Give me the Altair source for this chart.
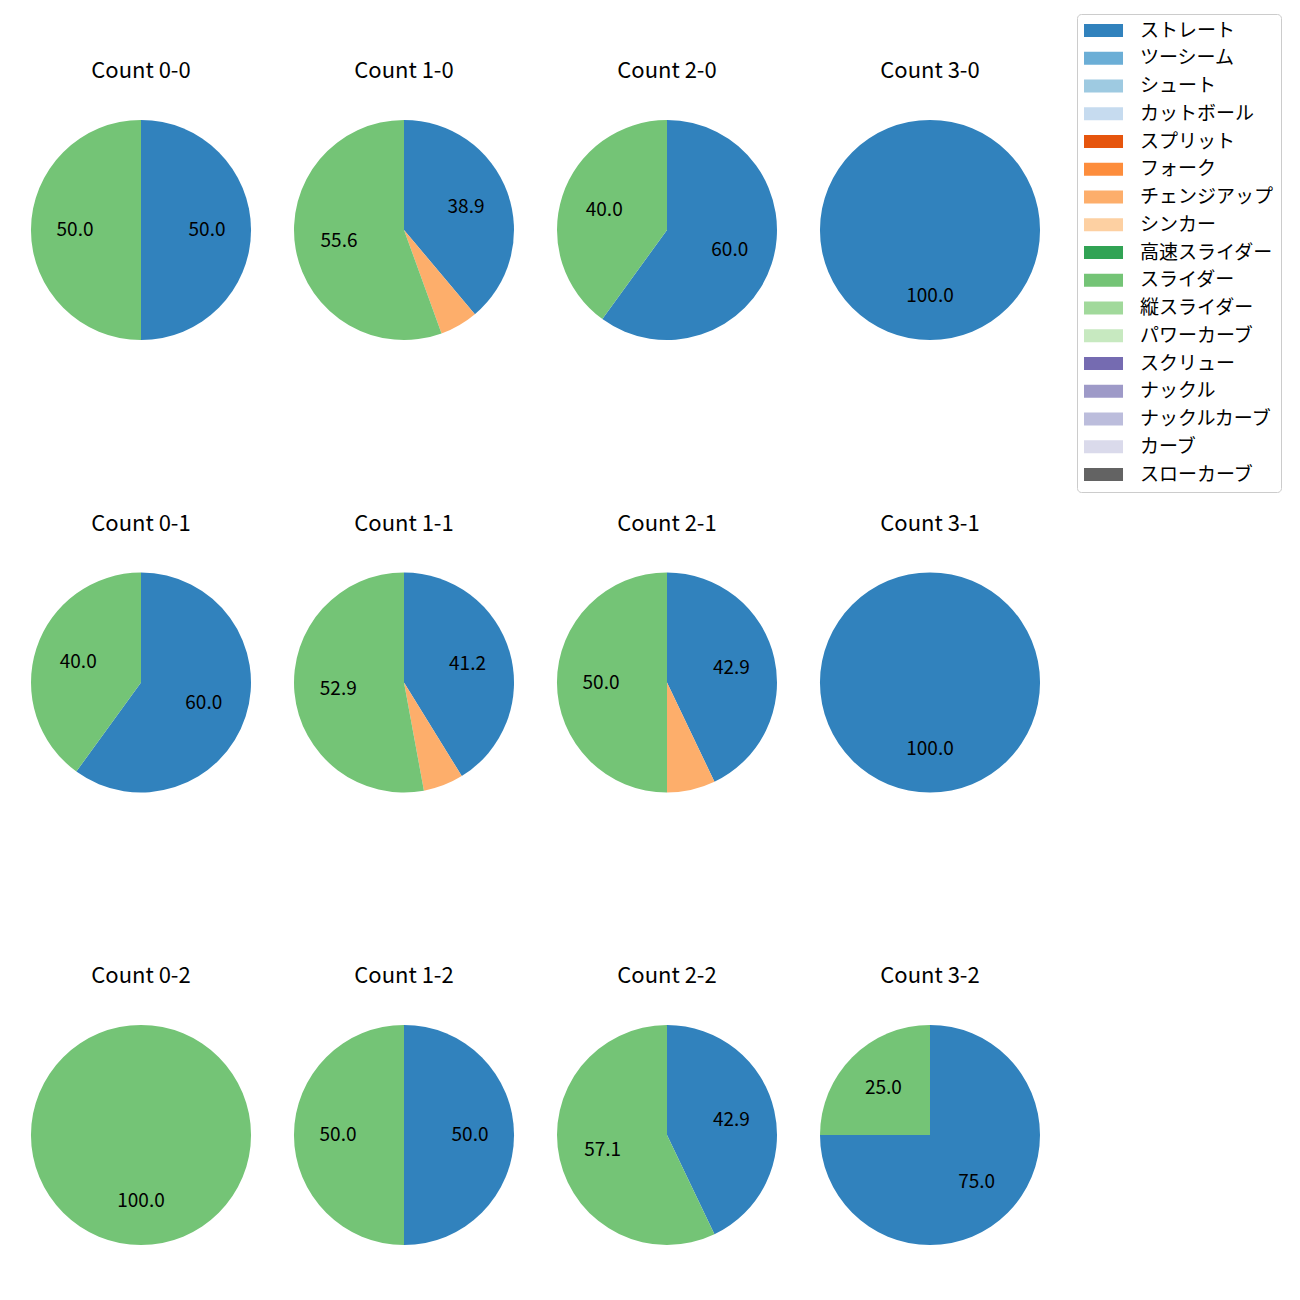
import altair as alt
import pandas as pd

pitch_types = ["ストレート", "ツーシーム", "シュート", "カットボール", "スプリット", "フォーク",
               "チェンジアップ", "シンカー", "高速スライダー", "スライダー", "縦スライダー",
               "パワーカーブ", "スクリュー", "ナックル", "ナックルカーブ", "カーブ", "スローカーブ"]
pitch_colors = ["#3182bd", "#6baed6", "#9ecae1", "#c6dbef", "#e6550d", "#fd8d3c",
                "#fdae6b", "#fdd0a2", "#31a354", "#74c476", "#a1d99b", "#c7e9c0",
                "#756bb1", "#9e9ac8", "#bcbddc", "#dadaeb", "#636363"]

counts = ["0-0", "1-0", "2-0", "3-0",
          "0-1", "1-1", "2-1", "3-1",
          "0-2", "1-2", "2-2", "3-2"]
straight = [50.0, 38.9, 60.0, 100.0, 60.0, 41.2, 42.9, 100.0, 0.0, 50.0, 42.9, 75.0]
changeup = [0.0, 5.6, 0.0, 0.0, 0.0, 5.9, 7.1, 0.0, 0.0, 0.0, 0.0, 0.0]
slider = [50.0, 55.6, 40.0, 0.0, 40.0, 52.9, 50.0, 0.0, 100.0, 50.0, 57.1, 25.0]

FONT = "Noto Sans CJK JP"

rows = []
for i, c in enumerate(counts):
    for name, vals in (("ストレート", straight), ("チェンジアップ", changeup), ("スライダー", slider)):
        v = vals[i]
        if v > 0:
            rows.append({"count": c, "pitch": name, "ord": pitch_types.index(name),
                         "pct": v, "label": f"{v:.1f}" if v >= 10 else ""})
df = pd.DataFrame(rows)

color_scale = alt.Scale(domain=pitch_types, range=pitch_colors)
legend = alt.Legend(
    title=None, orient="none", legendX=1046, legendY=-106,
    symbolType="M-1.46,-1L4.54,-1L4.54,1L-1.46,1Z", symbolSize=169, symbolStrokeWidth=0,
    symbolOpacity=1, labelFont=FONT, labelFontSize=19, labelColor="black",
    labelOffset=37, rowPadding=7.75, padding=7, strokeColor="#cccccc",
    cornerRadius=4, fillColor="white", labelLimit=300,
)


def panel(c):
    base = alt.Chart(df).transform_filter(alt.datum["count"] == c).encode(
        theta=alt.Theta("pct:Q", stack=True),
        order=alt.Order("ord:Q", sort="ascending"),
    )
    arc = base.mark_arc(outerRadius=110, strokeWidth=0).encode(
        color=alt.Color("pitch:N", scale=color_scale, legend=legend)
    )
    text = base.mark_text(radius=66, fontSize=19, font=FONT, color="black").encode(
        text="label:N", detail="pitch:N"
    )
    return alt.layer(arc, text).properties(
        width=220, height=220,
        title=alt.TitleParams(f"Count {c}", fontSize=22, font=FONT, fontWeight="normal",
                              color="black", anchor="middle", baseline="alphabetic", offset=20),
    )


grid_rows = []
for r in range(3):
    grid_rows.append(
        alt.hconcat(*[panel(c) for c in counts[r * 4:(r + 1) * 4]], spacing=43)
        .resolve_scale(theta="independent")
    )

chart = alt.vconcat(*grid_rows, spacing=172.5).resolve_scale(theta="independent").properties(
    padding={"left": 23, "top": 5, "right": 5, "bottom": 5}
).configure_view(stroke=None)

chart.save("out.html", embed_options={"renderer": "svg", "actions": False})
